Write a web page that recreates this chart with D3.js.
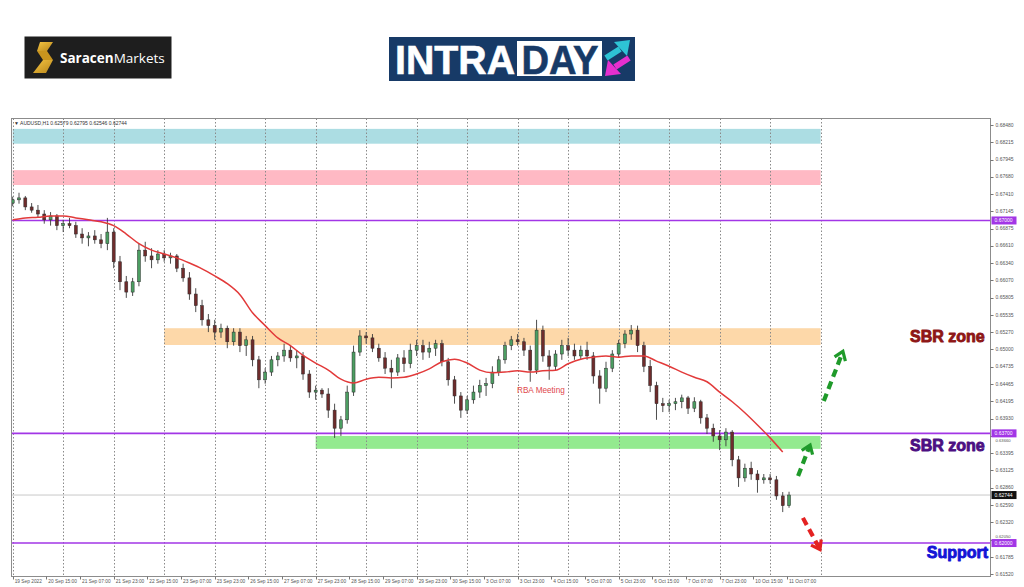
<!DOCTYPE html>
<html><head><meta charset="utf-8">
<script src="https://cdn.jsdelivr.net/npm/d3@7/dist/d3.min.js"></script>
<style>html,body{margin:0;padding:0;background:#fff;}svg{display:block;}</style>
</head><body>
<svg id="chart" width="1024" height="587"></svg>
<script>
// ---------------- data ----------------
const symbol = "AUDUSD,H1";
const hoursPerCandle = 3;
const opens = [0.6727,0.6732,0.6735,0.6721,0.6716,0.6710,0.6701,0.6707,0.6692,0.6695,
0.6692,0.6679,0.6673,0.6676,0.6670,0.6664,0.6682,0.6636,0.6605,0.6589,
0.6605,0.6654,0.6645,0.6639,0.6648,0.6642,0.6645,0.6626,0.6611,0.6586,
0.6568,0.6546,0.6537,0.6527,0.6533,0.6512,0.6527,0.6506,0.6515,0.6484,
0.6453,0.6465,0.6484,0.6490,0.6499,0.6487,0.6490,0.6462,0.6434,0.6437,
0.6431,0.6406,0.6378,0.6391,0.6434,0.6496,0.6521,0.6518,0.6502,0.6487,
0.6471,0.6465,0.6487,0.6478,0.6499,0.6506,0.6496,0.6502,0.6509,0.6481,
0.6453,0.6428,0.6406,0.6422,0.6434,0.6444,0.6447,0.6465,0.6484,0.6506,
0.6515,0.6512,0.6499,0.6468,0.6530,0.6490,0.6474,0.6493,0.6506,0.6499,
0.6490,0.6499,0.6490,0.6459,0.6440,0.6471,0.6493,0.6509,0.6524,0.6530,
0.6506,0.6474,0.6444,0.6416,0.6413,0.6416,0.6419,0.6425,0.6409,0.6419,
0.6394,0.6378,0.6366,0.6360,0.6372,0.6329,0.6301,0.6316,0.6307,0.6298,
0.6301,0.6298,0.6273,0.62579];
const highs = [0.6737,0.6743,0.6738,0.6727,0.6724,0.6716,0.6713,0.6710,0.6701,0.6704,
0.6698,0.6688,0.6682,0.6685,0.6679,0.6704,0.6688,0.6645,0.6614,0.6611,
0.6664,0.6667,0.6657,0.6654,0.6654,0.6650,0.6648,0.6633,0.6620,0.6595,
0.6577,0.6555,0.6546,0.6540,0.6537,0.6533,0.6533,0.6521,0.6521,0.6490,
0.6471,0.6490,0.6496,0.6509,0.6506,0.6499,0.6496,0.6468,0.6444,0.6440,
0.6440,0.6416,0.6397,0.6444,0.6506,0.6530,0.6527,0.6524,0.6509,0.6496,
0.6484,0.6493,0.6499,0.6509,0.6515,0.6515,0.6512,0.6515,0.6515,0.6487,
0.6459,0.6434,0.6428,0.6444,0.6453,0.6456,0.6474,0.6490,0.6512,0.6521,
0.6524,0.6518,0.6506,0.6546,0.6537,0.6499,0.6499,0.6515,0.6518,0.6509,
0.6506,0.6512,0.6496,0.6468,0.6481,0.6499,0.6515,0.6530,0.6538,0.6537,
0.6512,0.6484,0.6450,0.6425,0.6422,0.6425,0.6430,0.6428,0.6426,0.6422,
0.6400,0.6385,0.6375,0.6378,0.6375,0.6335,0.6323,0.6326,0.6313,0.6307,
0.6307,0.6304,0.6279,0.62795];
const lows = [0.6722,0.6726,0.6716,0.6712,0.6704,0.6695,0.6692,0.6685,0.6682,0.6688,
0.6673,0.6664,0.6660,0.6664,0.6657,0.6654,0.6626,0.6592,0.6580,0.6583,
0.6598,0.6636,0.6626,0.6633,0.6636,0.6633,0.6620,0.6605,0.6577,0.6558,
0.6537,0.6527,0.6515,0.6518,0.6502,0.6506,0.6496,0.6490,0.6474,0.6440,
0.6447,0.6459,0.6474,0.6481,0.6481,0.6471,0.6453,0.6425,0.6422,0.6425,
0.6394,0.6363,0.6366,0.6385,0.6428,0.6490,0.6509,0.6496,0.6481,0.6462,
0.6440,0.6459,0.6465,0.6471,0.6490,0.6484,0.6487,0.6490,0.6474,0.6444,
0.6416,0.6394,0.6400,0.6416,0.6425,0.6428,0.6440,0.6459,0.6478,0.6499,
0.6506,0.6490,0.6450,0.6462,0.6481,0.6453,0.6468,0.6484,0.6490,0.6484,
0.6484,0.6484,0.6447,0.6416,0.6434,0.6465,0.6487,0.6502,0.6515,0.6496,
0.6465,0.6434,0.6391,0.6403,0.6403,0.6406,0.6409,0.6400,0.6403,0.6385,
0.6369,0.6357,0.6344,0.6350,0.6319,0.6287,0.6295,0.6298,0.6278,0.6292,
0.6292,0.6267,0.6248,0.62546];
const closes = [0.6732,0.6735,0.6721,0.6716,0.6710,0.6701,0.6707,0.6692,0.6695,0.6692,
0.6679,0.6673,0.6676,0.6670,0.6664,0.6682,0.6636,0.6605,0.6589,0.6605,
0.6654,0.6645,0.6639,0.6648,0.6642,0.6645,0.6626,0.6611,0.6586,0.6568,
0.6546,0.6537,0.6527,0.6533,0.6512,0.6527,0.6506,0.6515,0.6484,0.6453,
0.6465,0.6484,0.6490,0.6499,0.6487,0.6490,0.6462,0.6434,0.6437,0.6431,
0.6406,0.6378,0.6391,0.6434,0.6496,0.6521,0.6518,0.6502,0.6487,0.6471,
0.6465,0.6487,0.6478,0.6499,0.6506,0.6496,0.6502,0.6509,0.6481,0.6453,
0.6428,0.6406,0.6422,0.6434,0.6444,0.6447,0.6465,0.6484,0.6506,0.6515,
0.6512,0.6499,0.6468,0.6530,0.6490,0.6474,0.6493,0.6506,0.6499,0.6490,
0.6499,0.6490,0.6459,0.6440,0.6471,0.6493,0.6509,0.6524,0.6530,0.6506,
0.6474,0.6444,0.6416,0.6413,0.6416,0.6419,0.6425,0.6409,0.6419,0.6394,
0.6378,0.6366,0.6360,0.6372,0.6329,0.6301,0.6316,0.6307,0.6298,0.6301,
0.6298,0.6273,0.62579,0.62744];

const maStepHours = 6;
const maValues = [0.6701,0.6704,0.6705,0.6707,0.6707,0.6704,0.6701,0.6698,0.6692,0.6679,
0.6664,0.6654,0.6648,0.6642,0.6634,0.6625,0.6614,0.6602,0.6585,0.6557,
0.6537,0.6518,0.6506,0.6491,0.6479,0.6468,0.6454,0.6448,0.6454,0.6457,
0.6456,0.6457,0.6462,0.6470,0.6481,0.6485,0.6479,0.6468,0.6464,0.6465,
0.6467,0.6465,0.6467,0.6468,0.6478,0.6485,0.6488,0.6490,0.6488,0.6490,
0.6490,0.6482,0.6474,0.6465,0.6457,0.6450,0.6434,0.6419,0.6402,0.6383,
0.6363,0.6341];

const xTickLabels = ["19 Sep 2022","20 Sep 15:00","21 Sep 07:00","21 Sep 23:00","22 Sep 15:00","23 Sep 07:00",
"23 Sep 23:00","26 Sep 15:00","27 Sep 07:00","27 Sep 23:00","28 Sep 15:00","29 Sep 07:00","29 Sep 23:00",
"30 Sep 15:00","3 Oct 07:00","3 Oct 23:00","4 Oct 15:00","5 Oct 07:00","5 Oct 23:00","6 Oct 15:00",
"7 Oct 07:00","7 Oct 23:00","10 Oct 15:00","11 Oct 07:00"];
const xTickStepHours = 16;
const gridStepHours = 24;
const gridLastHour = 384;
const yTickValues = [0.68480,0.68215,0.67945,0.67680,0.67410,0.67145,0.66875,0.66610,0.66340,0.66070,
0.65805,0.65535,0.65270,0.65000,0.64735,0.64465,0.64195,0.63930,0.63660,0.63395,0.63125,0.62860,
0.62590,0.62320,0.62050,0.61785,0.61520];
const levelValues = [0.67000,0.63700,0.62000];
const currentPrice = 0.62744;

const bandTops = [0.6842,0.6778,0.6533,0.6366];
const bandBottoms = [0.6819,0.6755,0.6507,0.6346];
const bandStartHours = [0,0,72,144];
const bandEndHour = 384;
const bandColors = ["#acdde3","#ffb9c4","#fdd8a9","#93ea8f"];

const noteTexts = ["SBR zone","SBR zone","Support"];
const notePrices = [0.6512,0.6343,0.6177];
const noteEndHours = [462,462,463.6];
const noteColors = ["#8e1616","#4c0f82","#1414d6"];
const rbaText = "RBA Meeting", rbaHour = 239.7, rbaPrice = 0.6433;

// arrows: [hourFrom, priceFrom, hourTo, priceTo]
const arrowSpecs = [[385.5,0.6420,394.6,0.6497],[373.3,0.6304,379.0,0.6352],[375.6,0.6239,383.7,0.6190]];
const arrowColors = ["#1f9a2a","#1f9a2a","#e42222"];

// ---------------- layout ----------------
const svg = d3.select("#chart");
const P = {l:11.5, t:118.5, r:990.5, b:576.5};
const x = d3.scaleLinear().domain([0,384]).range([12.7,820.6]);
const y = d3.scaleLinear().domain([0.6152,0.6848]).range([574,125]);
const small = "'Liberation Sans',Arial,sans-serif";

// ---------- logos ----------
const lg = svg.append("g");
lg.append("rect").attr("x",24.5).attr("y",36.5).attr("width",147).attr("height",42).attr("fill","#1e1e1e");
const gd = svg.append("defs");
const grad = gd.append("linearGradient").attr("id","gold").attr("x1",0).attr("y1",0).attr("x2",1).attr("y2",1);
grad.append("stop").attr("offset","0").attr("stop-color","#f5c542");
grad.append("stop").attr("offset","1").attr("stop-color","#b8861b");
lg.append("path").attr("d","M40,42 L53,42 L47,51 L37,51 Z").attr("fill","url(#gold)");
lg.append("path").attr("d","M37,51 L47,51 L53,60 L43,60 Z").attr("fill","#c8941e");
lg.append("path").attr("d","M43,60 L53,60 L46,73 L33,73 Z").attr("fill","url(#gold)");
const st = lg.append("text").attr("x",60).attr("y",62.5).attr("font-family","'Open Sans',Arial,sans-serif")
  .attr("font-size",13.5).attr("fill","#fff");
st.append("tspan").attr("font-weight",700).text("Saracen");
st.append("tspan").attr("font-weight",400).text("Markets");

const ig = svg.append("g");
ig.append("rect").attr("x",389).attr("y",37).attr("width",246).attr("height",44).attr("fill","#173a67");
ig.append("text").attr("x",395).attr("y",73.5).attr("font-family","'Liberation Sans',Arial,sans-serif")
  .attr("font-weight",700).attr("font-size",41).attr("fill","#fff").attr("stroke","#fff").attr("stroke-width",0.6)
  .attr("textLength",120).attr("lengthAdjust","spacingAndGlyphs").text("INTRA");
ig.append("rect").attr("x",517).attr("y",41).attr("width",85).attr("height",35).attr("fill","#fff");
ig.append("text").attr("x",521.5).attr("y",73.5).attr("font-family","'Liberation Sans',Arial,sans-serif")
  .attr("font-weight",700).attr("font-size",41).attr("fill","#173a67").attr("stroke","#173a67").attr("stroke-width",0.6)
  .attr("textLength",77).attr("lengthAdjust","spacingAndGlyphs").text("DAY");
ig.append("line").attr("x1",606).attr("y1",58).attr("x2",620).attr("y2",49).attr("stroke","#2ec3d5").attr("stroke-width",6);
ig.append("path").attr("d","M630,40 L614,42 L627,56 Z").attr("fill","#2ec3d5");
ig.append("line").attr("x1",629).attr("y1",58).attr("x2",615).attr("y2",67).attr("stroke","#e52fcf").attr("stroke-width",6);
ig.append("path").attr("d","M605,76 L621,74 L608,60 Z").attr("fill","#e52fcf");

// ---------- chart ----------
gd.append("clipPath").attr("id","plotclip").append("rect")
  .attr("x",P.l).attr("y",P.t).attr("width",P.r-P.l).attr("height",P.b-P.t);
const cg = svg.append("g").attr("clip-path","url(#plotclip)");

// bands
cg.selectAll("rect.band").data(bandTops).join("rect").attr("class","band")
  .attr("x",(d,i)=>x(bandStartHours[i])).attr("width",(d,i)=>x(bandEndHour)-x(bandStartHours[i]))
  .attr("y",d=>y(d)).attr("height",(d,i)=>y(bandBottoms[i])-y(d)).attr("fill",(d,i)=>bandColors[i]);

// vertical grid
const gridHours = d3.range(0, gridLastHour+1, gridStepHours);
cg.selectAll("line.grid").data(gridHours).join("line").attr("class","grid")
  .attr("x1",d=>Math.round(x(d))+0.5).attr("x2",d=>Math.round(x(d))+0.5).attr("y1",P.t).attr("y2",P.b)
  .attr("stroke","#8a8a8a").attr("stroke-width",1).attr("stroke-dasharray","1.5,2");

// current price line
cg.append("line").attr("x1",P.l).attr("x2",P.r).attr("y1",y(currentPrice)).attr("y2",y(currentPrice))
  .attr("stroke","#c8c8c8").attr("stroke-width",1);

// level lines
cg.selectAll("line.lvl").data(levelValues).join("line").attr("class","lvl")
  .attr("x1",P.l).attr("x2",P.r).attr("y1",d=>y(d)).attr("y2",d=>y(d))
  .attr("stroke","#a236e6").attr("stroke-width",1.6);

// candles
const candles = opens.map((o,i)=>({h:i*hoursPerCandle,o,hi:highs[i],lo:lows[i],c:closes[i]}));
const cgc = cg.append("g");
cgc.selectAll("line.wick").data(candles).join("line").attr("class","wick")
  .attr("x1",d=>x(d.h)).attr("x2",d=>x(d.h)).attr("y1",d=>y(d.hi)).attr("y2",d=>y(d.lo))
  .attr("stroke","#3a3a3a").attr("stroke-width",0.9);
cgc.selectAll("rect.body").data(candles).join("rect").attr("class","body")
  .attr("x",d=>x(d.h)-1.5).attr("width",3)
  .attr("y",d=>y(Math.max(d.o,d.c))).attr("height",d=>Math.max(1,Math.abs(y(d.o)-y(d.c))))
  .attr("fill",d=>d.c>=d.o?"#4c9e62":"#6e2c2c").attr("stroke","#2c2c2c").attr("stroke-width",0.5);

// moving average
const ma = d3.line().x((d,i)=>x(i*maStepHours)).y(d=>y(d)).curve(d3.curveMonotoneX);
cg.append("path").attr("d",ma(maValues)).attr("fill","none").attr("stroke","#e23a3a").attr("stroke-width",1.5);

// RBA label
cg.append("text").attr("x",x(rbaHour)).attr("y",y(rbaPrice)).attr("font-family",small)
  .attr("font-size",8.2).attr("fill","#e0474c").text(rbaText);

// header
const last = opens.length-1;
cg.append("text").attr("x",14).attr("y",124.5).attr("font-family",small).attr("font-size",5).attr("fill","#333")
  .text("\u25BC " + symbol + " " + opens[last].toFixed(5) + " " + highs[last].toFixed(5) + " " + lows[last].toFixed(5) + " " + closes[last].toFixed(5));

// frame
svg.append("rect").attr("x",P.l).attr("y",P.t).attr("width",P.r-P.l).attr("height",P.b-P.t)
  .attr("fill","none").attr("stroke","#8c8c8c").attr("stroke-width",1);

// y axis (labels that sit under a level box are nudged just beside it)
const boxed = levelValues.concat([currentPrice]);
const near = d => boxed.find(b=>Math.abs(y(d)-y(b)) < 4.5);
const ya = svg.append("g");
ya.selectAll("line").data(yTickValues).join("line").attr("x1",P.r).attr("x2",P.r+3)
  .attr("y1",d=>Math.round(y(d))+0.5).attr("y2",d=>Math.round(y(d))+0.5).attr("stroke","#777");
ya.selectAll("text").data(yTickValues).join("text").attr("x",P.r+5)
  .attr("y",d=>{ const b=near(d); if (b===undefined) return y(d)+1.8; return y(d) > y(b) ? y(b)+8.8 : y(b)-4.6; })
  .attr("font-family",small).attr("font-size",d=>near(d)===undefined?5:4.2)
  .attr("fill","#555").text(d=>d.toFixed(5));
// level boxes
const lb = svg.append("g");
levelValues.forEach(v=>{
  lb.append("rect").attr("x",P.r+1).attr("y",y(v)-4).attr("width",25).attr("height",8).attr("fill","#a236e6");
  lb.append("text").attr("x",P.r+4).attr("y",y(v)+1.8).attr("font-family",small).attr("font-size",5).attr("fill","#fff").text(v.toFixed(5));
});
lb.append("rect").attr("x",P.r+1).attr("y",y(currentPrice)-4).attr("width",25).attr("height",8).attr("fill","#111");
lb.append("text").attr("x",P.r+4).attr("y",y(currentPrice)+1.8).attr("font-family",small).attr("font-size",5).attr("fill","#fff").text(currentPrice.toFixed(5));

// x axis
const xa = svg.append("g");
xa.selectAll("line").data(xTickLabels).join("line")
  .attr("x1",(d,i)=>Math.round(x(i*xTickStepHours))+0.5).attr("x2",(d,i)=>Math.round(x(i*xTickStepHours))+0.5)
  .attr("y1",P.b).attr("y2",P.b+3).attr("stroke","#777");
xa.selectAll("text").data(xTickLabels).join("text").attr("x",(d,i)=>x(i*xTickStepHours)+2).attr("y",P.b+6.5)
  .attr("font-family",small).attr("font-size",4.8).attr("fill","#555").text(d=>d);

// annotations
const ng = svg.append("g");
noteTexts.forEach((t,i)=>{
  ng.append("text").attr("x",x(noteEndHours[i])).attr("y",y(notePrices[i])).attr("text-anchor","end")
    .attr("font-family","'Liberation Sans',Arial,sans-serif").attr("font-weight",700).attr("font-size",16)
    .attr("fill",noteColors[i]).attr("stroke",noteColors[i]).attr("stroke-width",0.9).attr("stroke-linejoin","round")
    .text(t);
});
arrowSpecs.forEach((a,i)=>{
  const x1=x(a[0]), y1=y(a[1]), x2=x(a[2]), y2=y(a[3]);
  const ang=Math.atan2(y2-y1,x2-x1), L=10, s=0.62;
  ng.append("line").attr("x1",x1).attr("y1",y1).attr("x2",x2-Math.cos(ang)*2).attr("y2",y2-Math.sin(ang)*2)
    .attr("stroke",arrowColors[i]).attr("stroke-width",4.2).attr("stroke-dasharray","8,5");
  const p1=[x2+Math.cos(ang+Math.PI-s)*L, y2+Math.sin(ang+Math.PI-s)*L];
  const p2=[x2+Math.cos(ang+Math.PI+s)*L, y2+Math.sin(ang+Math.PI+s)*L];
  ng.append("path").attr("d",`M${p1[0]},${p1[1]}L${x2},${y2}L${p2[0]},${p2[1]}`).attr("fill","none")
    .attr("stroke",arrowColors[i]).attr("stroke-width",3.2).attr("stroke-linejoin","miter");
});
</script>
</body></html>
